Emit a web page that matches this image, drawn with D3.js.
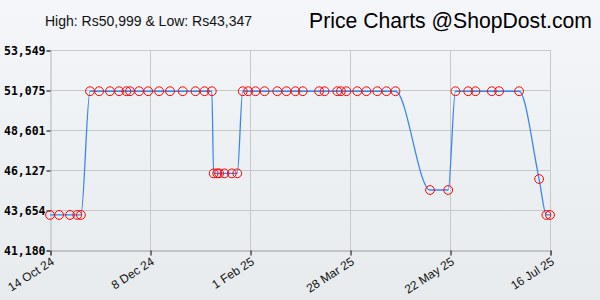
<!DOCTYPE html>
<html>
<head>
<meta charset="utf-8">
<script src="https://cdn.jsdelivr.net/npm/d3@7"></script>
<style>
  html, body { margin: 0; padding: 0; }
  svg { display: block; }
</style>
</head>
<body>
<script>
// price history
const dates = [
  '2024-10-14', '2024-10-19', '2024-10-25', '2024-10-29', '2024-10-31',
  '2024-11-05', '2024-11-10', '2024-11-16', '2024-11-21', '2024-11-25', '2024-11-27',
  '2024-12-02', '2024-12-07', '2024-12-13', '2024-12-19', '2024-12-26',
  '2025-01-02', '2025-01-07', '2025-01-11',
  '2025-01-12', '2025-01-14', '2025-01-15', '2025-01-18', '2025-01-22', '2025-01-25',
  '2025-01-28', '2025-01-31', '2025-02-04', '2025-02-09', '2025-02-16', '2025-02-21',
  '2025-02-26', '2025-03-02', '2025-03-11', '2025-03-14', '2025-03-21', '2025-03-23',
  '2025-03-26', '2025-04-01', '2025-04-06', '2025-04-12', '2025-04-17', '2025-04-22',
  '2025-05-11', '2025-05-21',
  '2025-05-25', '2025-06-01', '2025-06-05', '2025-06-14', '2025-06-18', '2025-06-29',
  '2025-07-10', '2025-07-14', '2025-07-16'
];
const prices = [
  43347, 43347, 43347, 43347, 43347,
  50999, 50999, 50999, 50999, 50999, 50999,
  50999, 50999, 50999, 50999, 50999,
  50999, 50999, 50999,
  45920, 45920, 45920, 45920, 45920, 45920,
  50999, 50999, 50999, 50999, 50999, 50999,
  50999, 50999, 50999, 50999, 50999, 50999,
  50999, 50999, 50999, 50999, 50999, 50999,
  44890, 44890,
  50999, 50999, 50999, 50999, 50999, 50999,
  45570, 43347, 43347
];

const yTicks = [41180, 43654, 46127, 48601, 51075, 53549];
const xTicks = ['2024-10-14', '2024-12-08', '2025-02-01', '2025-03-28', '2025-05-22', '2025-07-16'];
const headerLeft = 'High: Rs50,999 & Low: Rs43,347';
const headerRight = 'Price Charts @ShopDost.com';

const W = 600, H = 300;
const parse = d3.timeParse('%Y-%m-%d');
const data = dates.map((d, i) => ({ date: parse(d), price: prices[i] }));

const x = d3.scaleTime()
  .domain([parse(xTicks[0]), parse(xTicks[xTicks.length - 1])])
  .range([50, 550]);
const y = d3.scaleLinear()
  .domain([yTicks[0], yTicks[yTicks.length - 1]])
  .range([250, 50]);

const svg = d3.select('body').append('svg')
  .attr('width', W)
  .attr('height', H);

// background
const grad = svg.append('defs').append('linearGradient')
  .attr('id', 'bg').attr('x1', 0).attr('y1', 0).attr('x2', 0).attr('y2', 1);
grad.append('stop').attr('offset', '0%').attr('stop-color', '#f4f6f9');
grad.append('stop').attr('offset', '100%').attr('stop-color', '#e7ebee');
svg.append('rect').attr('width', W).attr('height', H).attr('fill', 'url(#bg)');

// header
svg.append('text')
  .attr('x', 45).attr('y', 26)
  .attr('font-family', 'Liberation Sans, Arial, sans-serif')
  .attr('font-size', 14)
  .attr('fill', '#111')
  .text(headerLeft);
svg.append('text')
  .attr('x', 592).attr('y', 28)
  .attr('text-anchor', 'end')
  .attr('font-family', 'Liberation Sans, Arial, sans-serif')
  .attr('font-size', 21.2)
  .attr('fill', '#000')
  .text(headerRight);

// grid
svg.append('g').selectAll('line.h')
  .data(yTicks.slice(1))
  .join('line')
  .attr('x1', 50).attr('x2', 550)
  .attr('y1', d => Math.round(y(d)) + 0.5).attr('y2', d => Math.round(y(d)) + 0.5)
  .attr('stroke', '#c8c8c8');
svg.append('g').selectAll('line.v')
  .data(xTicks.slice(1))
  .join('line')
  .attr('x1', d => Math.round(x(parse(d))) + 0.5).attr('x2', d => Math.round(x(parse(d))) + 0.5)
  .attr('y1', 50).attr('y2', 250)
  .attr('stroke', '#c8c8c8');

// axes
const yAxis = svg.append('g')
  .attr('transform', 'translate(50.5,0.5)')
  .call(d3.axisLeft(y).tickValues(yTicks).tickFormat(d3.format(',')).tickSize(4).tickPadding(1));
yAxis.select('.domain').attr('stroke', '#b4b4b4');
yAxis.selectAll('.tick line').attr('stroke', '#000');
yAxis.selectAll('.tick text')
  .attr('font-family', 'DejaVu Sans Mono, monospace')
  .attr('font-weight', 'bold')
  .attr('font-size', 11.5)
  .attr('fill', '#000');

const xAxis = svg.append('g')
  .attr('transform', 'translate(0.5,250.5)')
  .call(d3.axisBottom(x).tickValues(xTicks.map(parse)).tickFormat(d3.timeFormat('%-d %b %y')).tickSize(5));
xAxis.select('.domain').attr('stroke', '#c4c4c4').attr('stroke-width', 2);
xAxis.selectAll('.tick line').attr('stroke', '#000');
xAxis.selectAll('.tick text')
  .attr('font-family', 'Liberation Sans, Arial, sans-serif')
  .attr('font-size', 12)
  .attr('fill', '#111')
  .attr('text-anchor', 'end')
  .attr('dy', null)
  .attr('y', 0)
  .attr('transform', 'translate(4,13) rotate(-33)');

// price line
const line = d3.line()
  .x(d => x(d.date))
  .y(d => y(d.price))
  .curve(d3.curveMonotoneX);
svg.append('path')
  .datum(data)
  .attr('d', line)
  .attr('fill', 'none')
  .attr('stroke', '#3d86ee')
  .attr('stroke-width', 1.3);

// markers
svg.append('g').selectAll('circle')
  .data(data)
  .join('circle')
  .attr('cx', d => x(d.date))
  .attr('cy', d => y(d.price))
  .attr('r', 4.4)
  .attr('fill', 'none')
  .attr('stroke', '#ff0000')
  .attr('stroke-width', 1);
</script>
</body>
</html>
